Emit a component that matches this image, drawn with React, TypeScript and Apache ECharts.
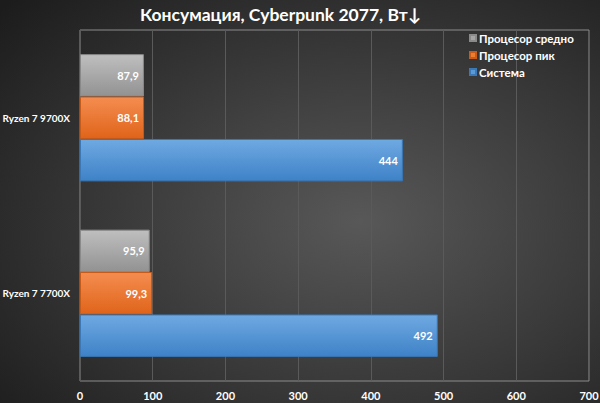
import React, { useEffect, useRef } from "react";
import * as echarts from "echarts";

const categories = ["Ryzen 7 9700X", "Ryzen 7 7700X"];
const seriesNames = ["Процесор средно", "Процесор пик", "Система"];
const cpuAvg = [87.9, 95.9];
const cpuPeak = [88.1, 99.3];
const system = [444, 492];
const xTicks = [0, 100, 200, 300, 400, 500, 600, 700];

const FONT = "Lato, 'Open Sans', sans-serif";

const grad = (top: string, bottom: string) =>
  new echarts.graphic.LinearGradient(0, 0, 0, 1, [
    { offset: 0, color: top },
    { offset: 1, color: bottom },
  ]);

const fmt = (v: number) => (Number.isInteger(v) ? String(v) : v.toFixed(1).replace(".", ","));

export default function App() {
  const ref = useRef<HTMLDivElement>(null);
  useEffect(() => {
    if (!ref.current) return;
    const chart = echarts.init(ref.current, undefined, { renderer: "svg" });
    const colors = [
      { fill: grad("#bfbfbf", "#929292"), border: "#8a8a8a", legend: "#a5a5a5" },
      { fill: grad("#f48d50", "#e0641a"), border: "#c95a18", legend: "#ed7d31" },
      { fill: grad("#6fa9e2", "#3e82c7"), border: "#3a78b8", legend: "#5b9bd5" },
    ];
    const data = [cpuAvg, cpuPeak, system];
    chart.setOption({
      animation: false,
      backgroundColor: new echarts.graphic.RadialGradient(0.6, 0.55, 0.8, [
        { offset: 0, color: "#585858" },
        { offset: 1, color: "#1c1c1c" },
      ]),
      title: {
        text: "Консумация, Cyberpunk 2077, Вт↓",
        left: 140,
        top: 5,
        padding: 0,
        textStyle: { color: "#ffffff", fontFamily: FONT, fontWeight: "bold", fontSize: 17.5 },
      },
      legend: {
        orient: "vertical",
        left: 469,
        top: 32,
        padding: 0,
        itemWidth: 6,
        itemHeight: 6,
        itemGap: 5,
        icon: "rect",
        data: seriesNames.map((n, i) => ({ name: n, itemStyle: { color: colors[i].legend } })),
        textStyle: { color: "#ffffff", fontFamily: FONT, fontWeight: "bold", fontSize: 11.5, padding: [0, 0, 0, -2] },
      },
      grid: {
        left: 80,
        right: 11,
        top: 30,
        bottom: 22,
        containLabel: false,
        outerBoundsMode: "none",
        show: true,
        borderColor: "#8c8c8c",
        borderWidth: 1,
      },
      xAxis: {
        type: "value",
        min: xTicks[0],
        max: xTicks[xTicks.length - 1],
        interval: 100,
        axisLine: { show: false },
        axisTick: { show: false },
        splitLine: { show: true, lineStyle: { color: "#5a5a5a", width: 1 } },
        axisLabel: { color: "#ffffff", fontFamily: FONT, fontWeight: "bold", fontSize: 11, margin: 9 },
      },
      yAxis: {
        type: "category",
        data: categories,
        inverse: true,
        axisLine: { show: false },
        axisTick: { show: false },
        axisLabel: { color: "#ffffff", fontFamily: FONT, fontWeight: "bold", fontSize: 10, margin: 10 },
      },
      series: seriesNames.map((name, i) => ({
        name,
        type: "bar",
        data: data[i],
        barGap: "0%",
        barCategoryGap: "27.5%",
        itemStyle: { color: colors[i].fill, borderColor: colors[i].border, borderWidth: 1 },
        label: {
          show: true,
          position: "insideRight",
          distance: 5,
          color: "#ffffff",
          fontFamily: FONT,
          fontWeight: "bold",
          fontSize: 11,
          formatter: (p: any) => fmt(p.value),
        },
      })),
    });
    return () => chart.dispose();
  }, []);
  return <div ref={ref} style={{ width: 600, height: 403, position: "absolute", left: 0, top: 0 }} />;
}
